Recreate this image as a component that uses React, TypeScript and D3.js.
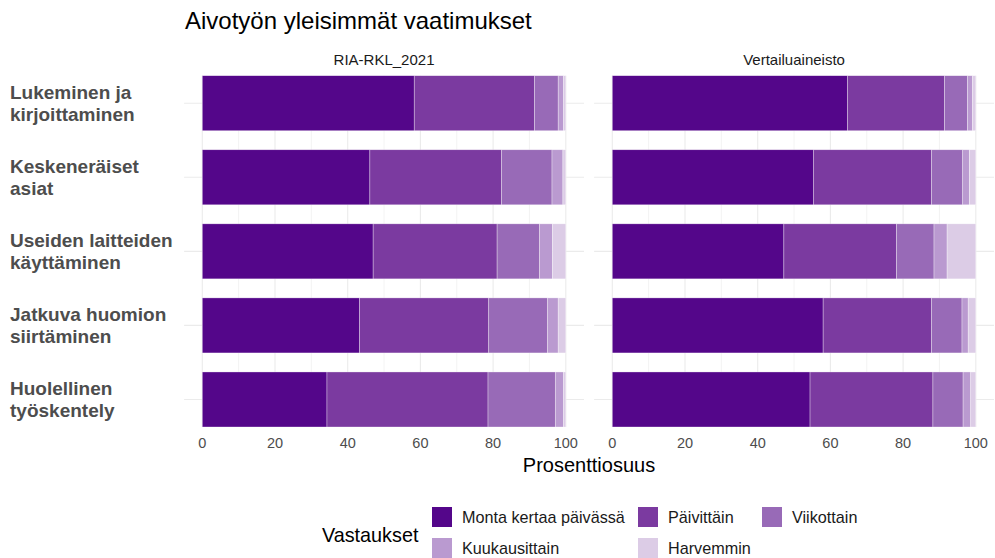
import React from "react";
import * as d3 from "d3";

const categories = [
  "Lukeminen ja kirjoittaminen",
  "Keskeneräiset asiat",
  "Useiden laitteiden käyttäminen",
  "Jatkuva huomion siirtäminen",
  "Huolellinen työskentely",
];
const categoryLines = [
  ["Lukeminen ja", "kirjoittaminen"],
  ["Keskeneräiset", "asiat"],
  ["Useiden laitteiden", "käyttäminen"],
  ["Jatkuva huomion", "siirtäminen"],
  ["Huolellinen", "työskentely"],
];
const responses = ["Monta kertaa päivässä", "Päivittäin", "Viikottain", "Kuukausittain", "Harvemmin"];
const responseColors = ["#54068a", "#7b3aa0", "#986ab7", "#ba9ad0", "#dccce6"];

// values per category, in order of responses
const riaValues = [
  [58.3, 33.1, 6.5, 1.5, 0.6],
  [46.1, 36.2, 13.9, 3.0, 0.8],
  [47.0, 34.1, 11.7, 3.5, 3.7],
  [43.3, 35.5, 16.2, 2.9, 2.1],
  [34.3, 44.3, 18.5, 2.3, 0.6],
];
const vertValues = [
  [64.7, 26.7, 6.3, 1.4, 0.9],
  [55.3, 32.5, 8.6, 1.8, 1.8],
  [47.2, 31.0, 10.3, 3.6, 7.9],
  [58.0, 29.8, 8.4, 1.7, 2.1],
  [54.4, 33.8, 8.3, 2.1, 1.4],
];
const panelNames = ["RIA-RKL_2021", "Vertailuaineisto"];
const tickValues = [0, 20, 40, 60, 80, 100];
const gridValues = [0, 10, 20, 30, 40, 50, 60, 70, 80, 90, 100];

const FONT = "'Liberation Sans', Arial, Helvetica, sans-serif";

function Panel({ x0, x1, values, name, y }: any) {
  const x = d3.scaleLinear().domain([-5, 105]).range([x0, x1]);
  const rows = values.map((vals: number[], i: number) => {
    const obj: any = { cat: categories[i] };
    responses.forEach((r, j) => (obj[r] = vals[j]));
    return obj;
  });
  const stacked = d3.stack().keys(responses)(rows);
  const [top, bottom] = y.range();
  return (
    <g>
      <text x={(x0 + x1) / 2} y={65} textAnchor="middle" fontSize={15} fill="#1a1a1a" fontFamily={FONT}>
        {name}
      </text>
      {categories.map((c) => (
        <line key={c} x1={x0} x2={x1} y1={y(c) + y.bandwidth() / 2} y2={y(c) + y.bandwidth() / 2} stroke="#ebebeb" strokeWidth={1.1} />
      ))}
      {gridValues.map((g) => (
        <line key={g} x1={x(g)} x2={x(g)} y1={top} y2={bottom} stroke="#ebebeb" strokeWidth={g % 20 === 0 ? 1.1 : 0.6} />
      ))}
      {stacked.map((s, j) => (
        <g key={j}>
          {s.map((d: any, i: number) => (
            <rect
              key={i}
              x={x(d[0])}
              width={x(d[1]) - x(d[0])}
              y={y(categories[i])}
              height={y.bandwidth()}
              fill={responseColors[j]}
              stroke="#ffffff"
              strokeOpacity={0.55}
              strokeWidth={0.6}
            />
          ))}
        </g>
      ))}
      {tickValues.map((t) => (
        <text key={t} x={x(t)} y={448} textAnchor="middle" fontSize={14.5} fill="#4d4d4d" fontFamily={FONT}>
          {t}
        </text>
      ))}
    </g>
  );
}

export default function App() {
  const y = d3.scaleBand().domain(categories).range([75.7, 427]).paddingInner(0.257).paddingOuter(0);
  const legendPos = [
    { x: 432, y: 507 },
    { x: 638, y: 507 },
    { x: 762, y: 507 },
    { x: 432, y: 538 },
    { x: 638, y: 538 },
  ];
  return (
    <svg width={995} height={558} style={{ position: "absolute", left: 0, top: 0, background: "#fff" }} fontFamily={FONT}>
      <text x={185} y={29} fontSize={24} fill="#000">
        Aivotyön yleisimmät vaatimukset
      </text>
      <Panel x0={184.1} x1={584} values={riaValues} name={panelNames[0]} y={y} />
      <Panel x0={594.1} x1={994} values={vertValues} name={panelNames[1]} y={y} />
      {categoryLines.map((lines, i) => {
        const cy = y(categories[i])! + y.bandwidth() / 2;
        return (
          <text key={i} fontSize={19} fontWeight="bold" fill="#4d4d4d">
            <tspan x={10} y={cy - 4}>{lines[0]}</tspan>
            <tspan x={10} y={cy + 17.4}>{lines[1]}</tspan>
          </text>
        );
      })}
      <text x={589} y={472} textAnchor="middle" fontSize={20} fill="#000">
        Prosenttiosuus
      </text>
      <text x={322} y={542} fontSize={19.8} fill="#000">
        Vastaukset
      </text>
      {responses.map((r, i) => (
        <g key={r}>
          <rect x={legendPos[i].x} y={legendPos[i].y} width={20} height={20} fill={responseColors[i]} />
          <text x={legendPos[i].x + 30} y={legendPos[i].y + 16} fontSize={16.2} fill="#1a1a1a">
            {r}
          </text>
        </g>
      ))}
    </svg>
  );
}
